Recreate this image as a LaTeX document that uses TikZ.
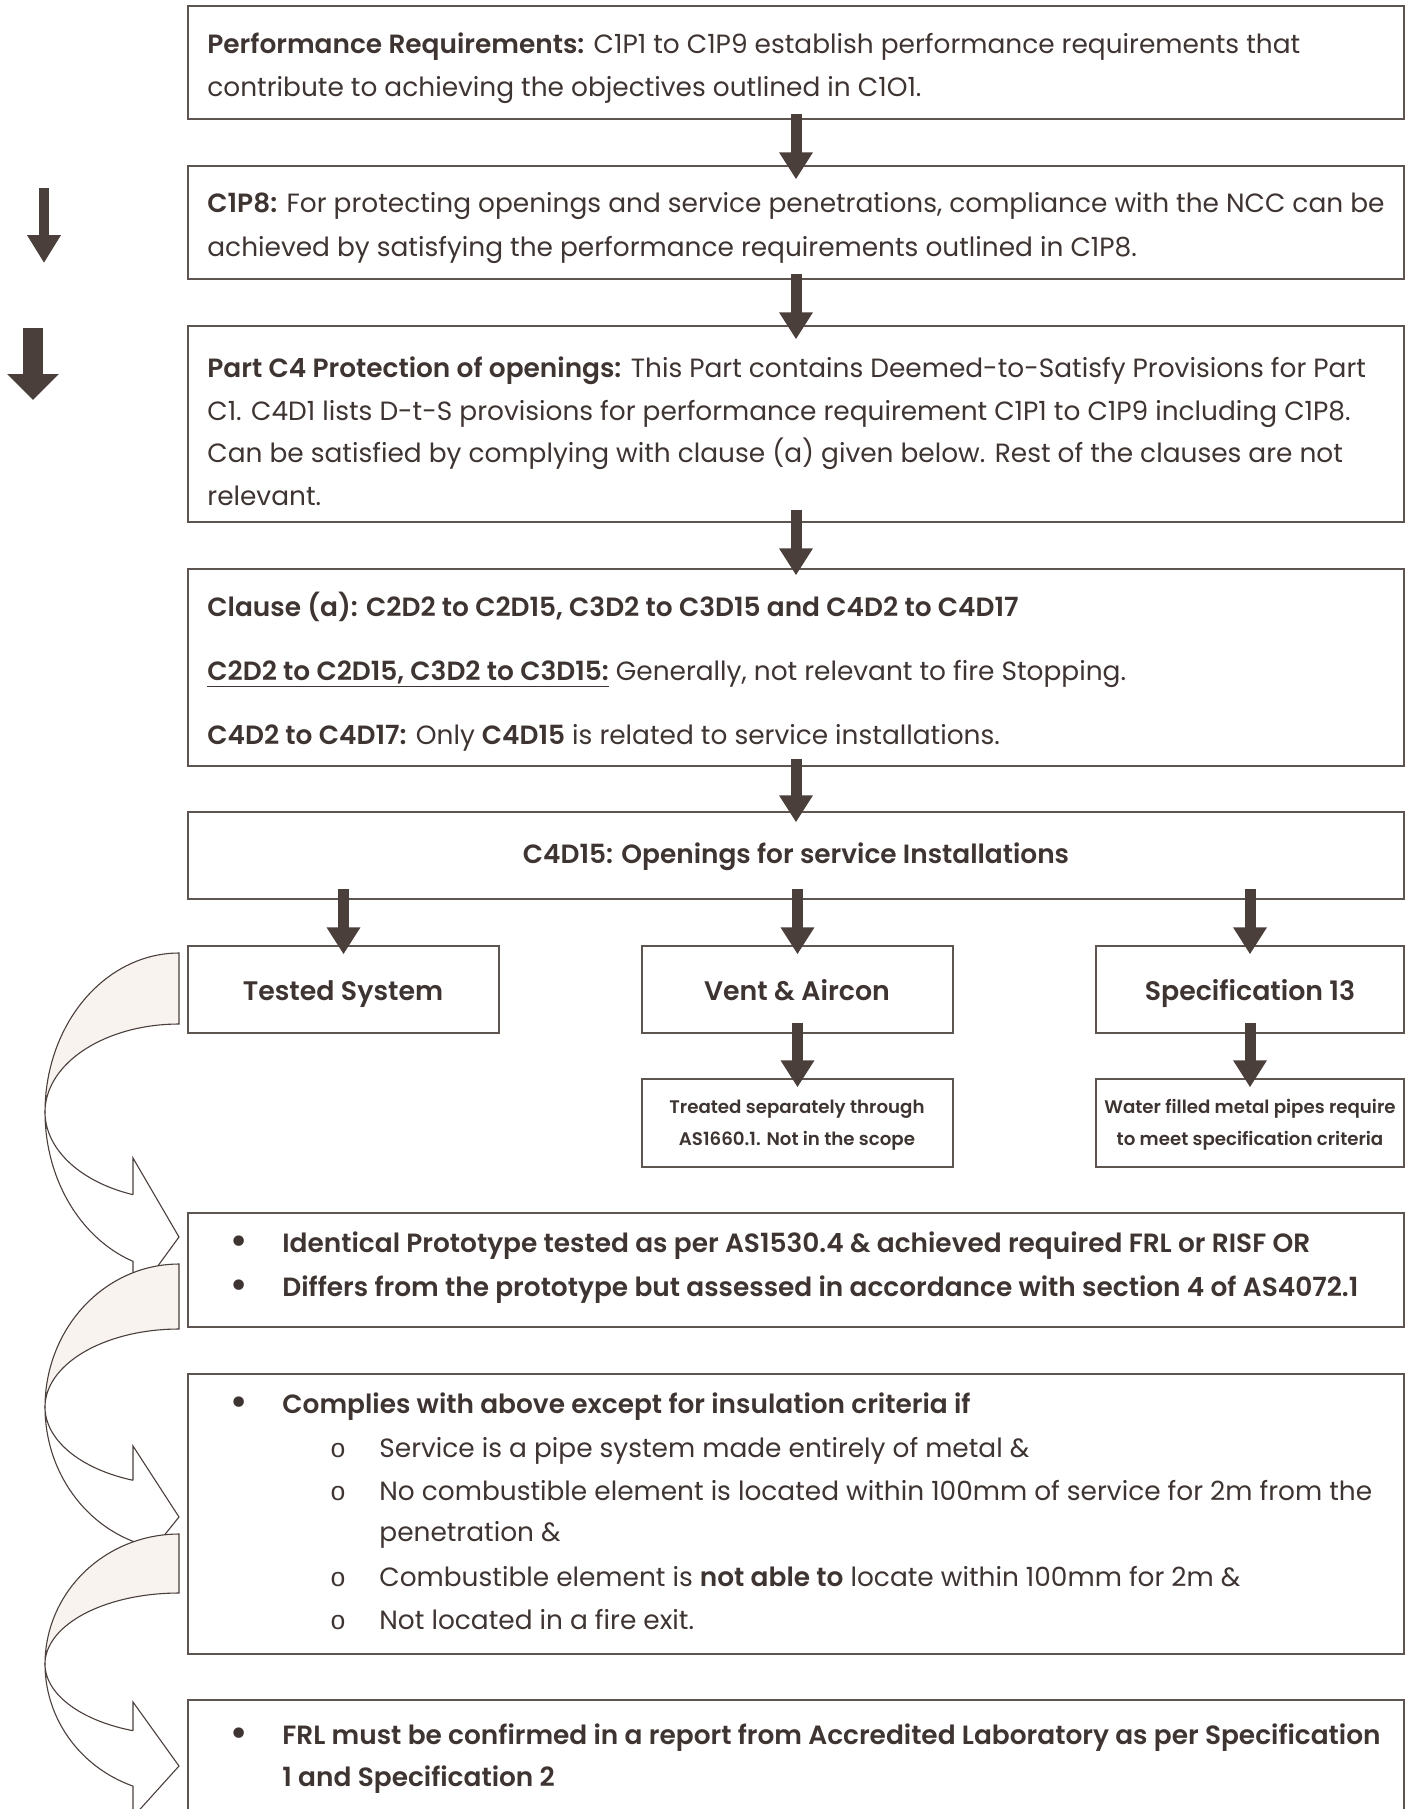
\documentclass[tikz,border=0pt]{standalone}
\usepackage{fontspec}
\setmainfont{Poppins}[BoldFont={Poppins SemiBold}]
\newfontfamily\symf{DejaVu Sans}
\newfontfamily\monof{Liberation Mono}
\usetikzlibrary{arrows.meta,fit}
\definecolor{ink}{HTML}{3E3431}
\definecolor{arr}{HTML}{4A3F3B}
\definecolor{edge}{HTML}{5E5551}
\definecolor{band}{HTML}{F8F3EF}
\newcommand{\bodyf}{\fontsize{13.2}{15}\selectfont}
\newcommand{\bigf}{\fontsize{13.4}{15}\selectfont\bfseries}
\newcommand{\smallf}{\fontsize{9.1}{11}\selectfont\bfseries}
\newcommand{\curvarr}[6]{%
  \draw[curv, fill=white] plot[domain=180:110.07, samples=40] ({179+134*cos(\x)},{#1+#2*sin(\x)})
     -- (133,#6) -- (179,#5) -- (133,#4) -- (133,{#1+#3*0.9392})
     -- plot[domain=110.07:180, samples=40] ({179+134*cos(\x)},{#1+#3*sin(\x)}) -- cycle;
  \draw[curv, fill=band] plot[domain=270:180, samples=40] ({179+134*cos(\x)},{#1+#2*sin(\x)})
     -- plot[domain=180:270, samples=40] ({179+134*cos(\x)},{#1+#3*sin(\x)}) -- cycle;
}
\begin{document}
\begin{tikzpicture}[x=0.5pt, y=-0.5pt,
  box/.style={draw=edge, line width=0.7pt, inner sep=0pt, fill=white},
  txt/.style={anchor=base west, inner sep=0pt, text=ink, font=\bodyf},
  ctxt/.style={anchor=base, inner sep=0pt, text=ink},
  bul/.style={anchor=base, inner sep=0pt, text=ink, font=\fontsize{18}{18}\selectfont\symf},
  sub/.style={anchor=base, inner sep=0pt, text=ink, font=\bodyf\monof},
  mainarr/.style={draw=arr, line width=5.5pt, -{Triangle[width=16pt,length=13.5pt]}},
  curv/.style={draw=arr, line width=0.55pt, line join=miter}]
\useasboundingbox (0,0) rectangle (1409,1809);
\clip (0,0) rectangle (1409,1809);

% boxes
\node[box, fit={(188,6) (1404,119)}] (b1) {};
\node[box, fit={(188,166) (1404,279)}] (b2) {};
\node[box, fit={(188,326) (1404,522)}] (b3) {};
\node[box, fit={(188,569) (1404,766)}] (b4) {};
\node[box, fit={(188,812) (1404,899)}] (b5) {};
\node[box, fit={(188,946) (499,1033)}] (t1) {};
\node[box, fit={(642,946) (953,1033)}] (t2) {};
\node[box, fit={(1096,946) (1404,1033)}] (t3) {};
\node[box, fit={(642,1079) (953,1167)}] (s2) {};
\node[box, fit={(1096,1079) (1404,1167)}] (s3) {};
\node[box, fit={(188,1213) (1404,1327)}] (p1) {};
\node[box, fit={(188,1374) (1404,1654)}] (p2) {};
\node[box, fit={(188,1700) (1404,1860)}] (p3) {};

% connectors
\draw[mainarr] ([yshift=3pt]b1.south) -- ([yshift=-7pt]b2.north);
\draw[mainarr] ([yshift=3pt]b2.south) -- ([yshift=-7pt]b3.north);
\draw[mainarr] ([yshift=6.5pt]b3.south) -- ([yshift=-3.5pt]b4.north);
\draw[mainarr] ([yshift=4pt]b4.south) -- ([yshift=-5.5pt]b5.north);
\draw[mainarr] ([yshift=5.5pt]t1.north |- b5.south) -- ([yshift=-4.5pt]t1.north);
\draw[mainarr] ([yshift=5.5pt]t2.north |- b5.south) -- ([yshift=-4.5pt]t2.north);
\draw[mainarr] ([yshift=5.5pt]t3.north |- b5.south) -- ([yshift=-4.5pt]t3.north);
\draw[mainarr] ([yshift=5.5pt]t2.south) -- ([yshift=-4.5pt]s2.north);
\draw[mainarr] ([yshift=5.5pt]t3.south) -- ([yshift=-4.5pt]s3.north);

% free arrows on the left
\coordinate (la1) at (44,188); \coordinate (la2) at (44,263);
\coordinate (lb1) at (33,328); \coordinate (lb2) at (33,400);
\draw[draw=arr, line width=5pt, -{Triangle[width=16pt,length=14pt]}] (la1) -- (la2);
\draw[draw=arr, line width=10pt, -{Triangle[width=25pt,length=13pt]}] (lb1) -- (lb2);

% curved arrows
\curvarr{1112}{159}{88}{1158}{1237}{1300}
\curvarr{1407}{143}{78}{1446}{1517}{1574}
\curvarr{1664}{130}{71}{1702}{1766}{1817}

% texts box 1
\node[txt] (b1a) at (207,54) {\textbf{Performance Requirements:} C1P1 to C1P9 establish performance requirements that};
\node[txt] (b1b) at (207,97) {contribute to achieving the objectives outlined in C1O1.};
% box 2
\node[txt] (b2a) at (207,213) {\textbf{C1P8:} For protecting openings and service penetrations, compliance with the NCC can be};
\node[txt] (b2b) at (207,256) {achieved by satisfying the performance requirements outlined in C1P8.};
% box 3
\node[txt] (b3a) at (207,377) {\textbf{Part C4 Protection of openings:} This Part contains Deemed-to-Satisfy Provisions for Part};
\node[txt] (b3b) at (207,420) {C1. C4D1 lists D-t-S provisions for performance requirement C1P1 to C1P9 including C1P8.};
\node[txt] (b3c) at (207,462) {Can be satisfied by complying with clause (a) given below. Rest of the clauses are not};
\node[txt] (b3d) at (207,505) {relevant.};
% box 4
\node[txt] (b4a) at (207,616) {\textbf{Clause (a): C2D2 to C2D15, C3D2 to C3D15 and C4D2 to C4D17}};
\node[txt] (b4b) at (207,680) {\underline{\textbf{C2D2 to C2D15, C3D2 to C3D15:}} Generally, not relevant to fire Stopping.};
\node[txt] (b4c) at (207,744) {\textbf{C4D2 to C4D17:} Only \textbf{C4D15} is related to service installations.};
% box 5
\node[ctxt, font=\bodyf\bfseries] (b5a) at (796,863) {C4D15: Openings for service Installations};
% branch boxes
\node[ctxt, font=\bigf] (t1a) at (343,1000) {Tested System};
\node[ctxt, font=\bigf] (t2a) at (797,1000) {Vent \& Aircon};
\node[ctxt, font=\bigf] (t3a) at (1250,1000) {Specification 13};
\node[ctxt, font=\smallf] (s2a) at (797,1113) {Treated separately through};
\node[ctxt, font=\smallf] (s2b) at (797,1145) {AS1660.1. Not in the scope};
\node[ctxt, font=\smallf] (s3a) at (1250,1113) {Water filled metal pipes require};
\node[ctxt, font=\smallf] (s3b) at (1250,1145) {to meet specification criteria};
% bullets 1
\node[bul] (p1x) at (239,1254) {•};
\node[txt] (p1a) at (282,1252) {\textbf{Identical Prototype tested as per AS1530.4 \& achieved required FRL or RISF OR}};
\node[bul] (p1y) at (239,1298) {•};
\node[txt] (p1b) at (282,1296) {\textbf{Differs from the prototype but assessed in accordance with section 4 of AS4072.1}};
% bullets 2
\node[bul] (p2x) at (239,1415) {•};
\node[txt] (p2a) at (282,1413) {\textbf{Complies with above except for insulation criteria if}};
\node[sub] (p2o1) at (338,1457) {o};
\node[txt] (p2b) at (379,1457) {Service is a pipe system made entirely of metal \&};
\node[sub] (p2o2) at (338,1500) {o};
\node[txt] (p2c) at (379,1500) {No combustible element is located within 100mm of service for 2m from the};
\node[txt] (p2d) at (379,1541) {penetration \&};
\node[sub] (p2o3) at (338,1586) {o};
\node[txt] (p2e) at (379,1586) {Combustible element is \textbf{not able to} locate within 100mm for 2m \&};
\node[sub] (p2o4) at (338,1629) {o};
\node[txt] (p2f) at (379,1629) {Not located in a fire exit.};
% bullets 3
\node[bul] (p3x) at (239,1746) {•};
\node[txt] (p3a) at (282,1744) {\textbf{FRL must be confirmed in a report from Accredited Laboratory as per Specification}};
\node[txt] (p3b) at (282,1786) {\textbf{1 and Specification 2}};
\end{tikzpicture}
\end{document}
